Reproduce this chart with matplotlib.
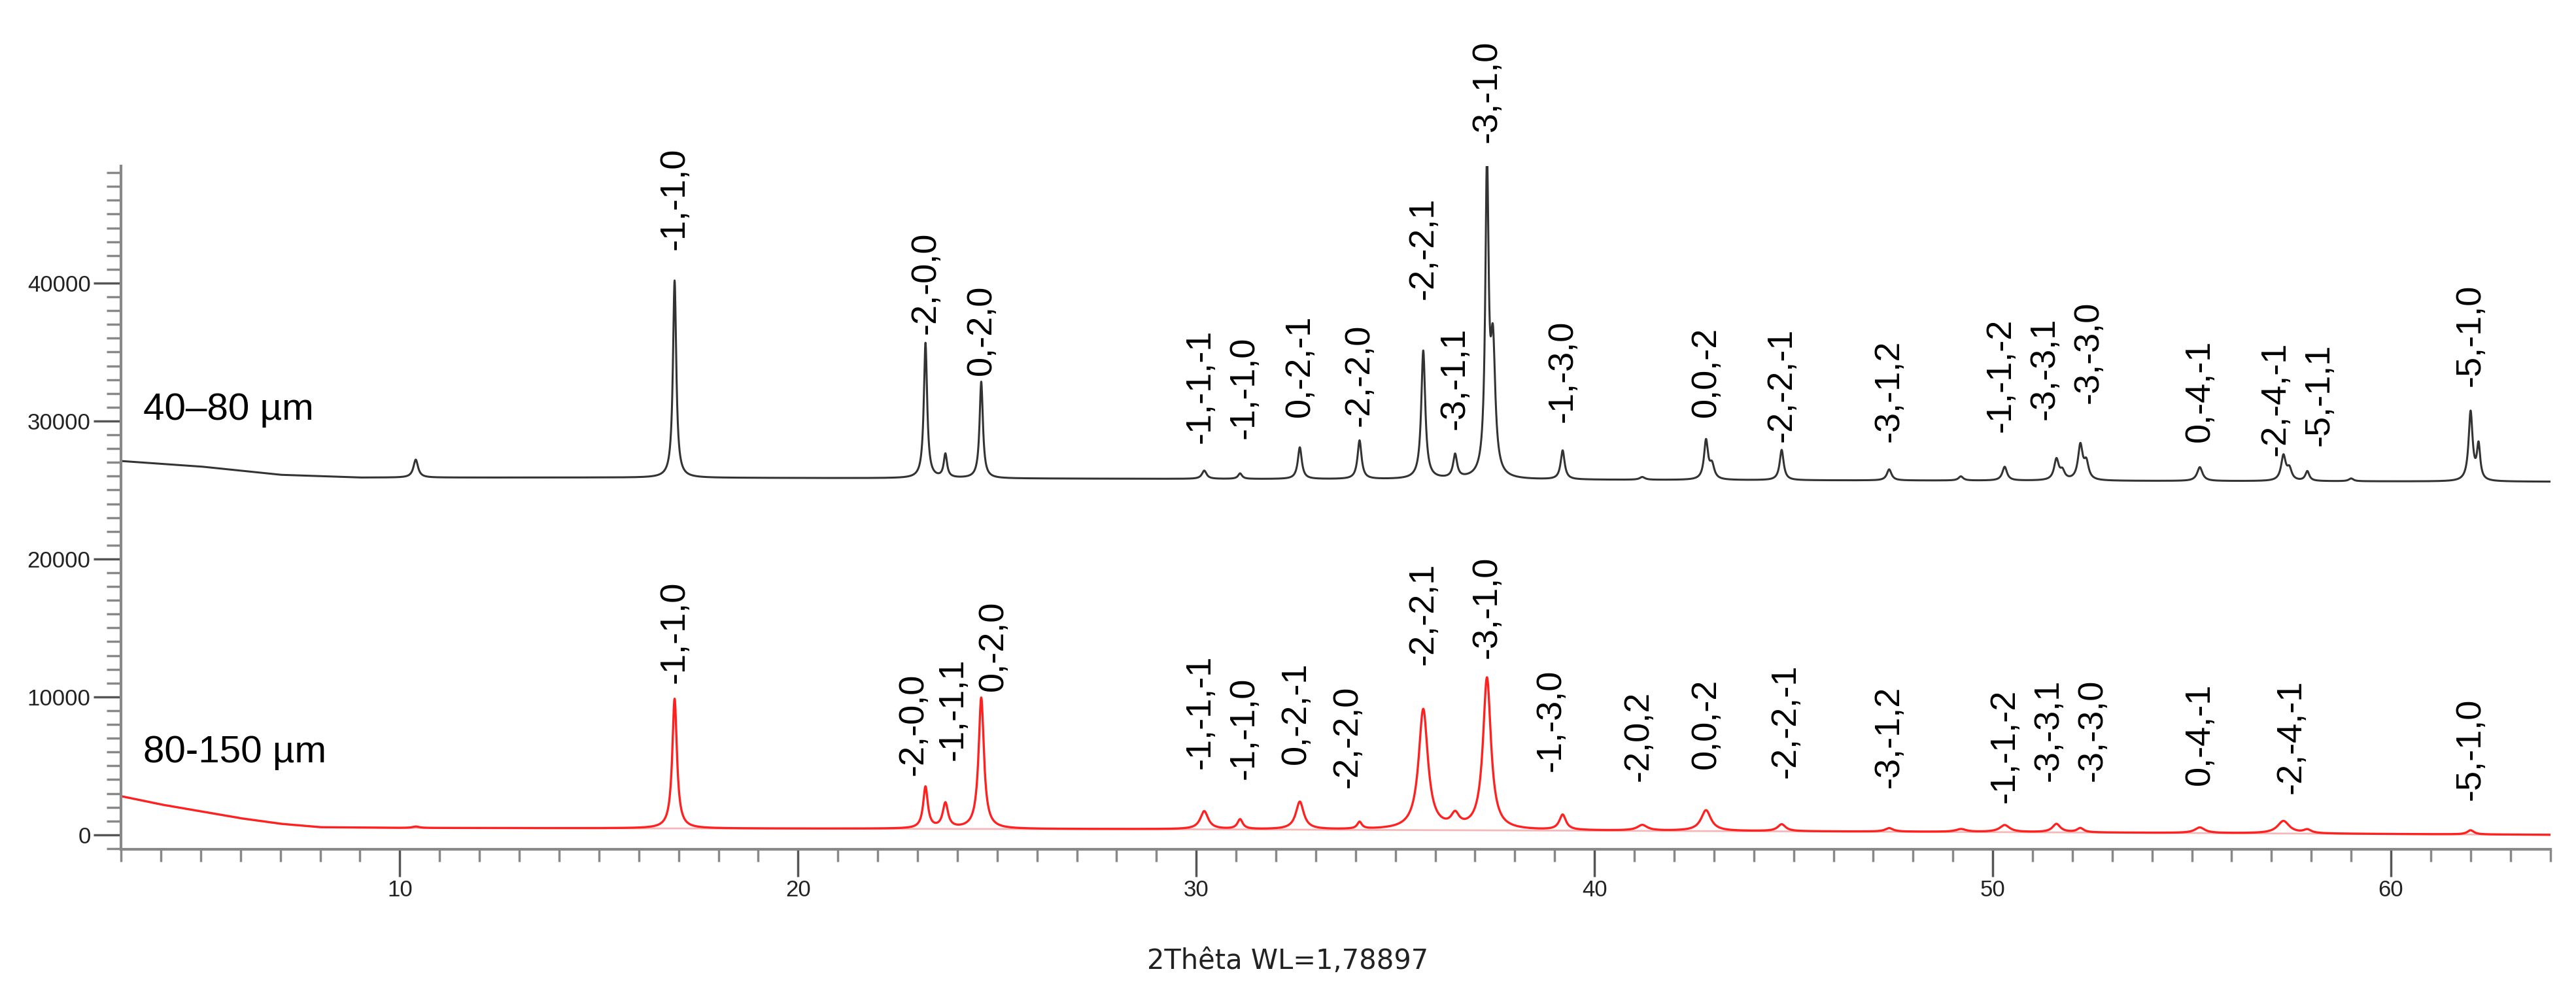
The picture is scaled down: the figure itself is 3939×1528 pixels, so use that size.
import numpy as np
import matplotlib
matplotlib.use("Agg")
import matplotlib.pyplot as plt

# ---- data ----
bk_pos = [10.4, 16.9, 23.2, 23.7, 24.6, 30.2, 31.1, 32.6, 34.1, 35.7, 36.5, 37.3, 37.45, 39.2, 41.2,
          42.8, 42.95, 44.7, 47.4, 49.2, 50.3, 51.6, 51.75, 52.2, 52.35, 55.2, 57.3, 57.45, 57.9, 59.0, 62.0, 62.2]
bk_amp = [1300, 14300, 9800, 1700, 7000, 600, 400, 2300, 2800, 9300, 1700, 22100, 9000, 2100, 200,
          2800, 1000, 2200, 800, 300, 1000, 1500, 600, 2500, 1200, 1000, 1800, 800, 700, 200, 5000, 2500]
bk_wid = [0.07, 0.05, 0.05, 0.05, 0.05, 0.07, 0.06, 0.06, 0.06, 0.06, 0.06, 0.05, 0.07, 0.06, 0.08,
          0.06, 0.07, 0.06, 0.07, 0.07, 0.07, 0.07, 0.07, 0.07, 0.07, 0.08, 0.07, 0.07, 0.06, 0.07, 0.06, 0.05]
bk_base_x = [3, 5, 7, 9, 15, 30, 45, 64]
bk_base_y = [27100, 26700, 26100, 25900, 25900, 25800, 25700, 25600]

rd_pos = [10.4, 16.9, 23.2, 23.7, 24.6, 30.2, 31.1, 32.6, 34.1, 35.7, 36.5, 37.3, 39.2, 41.2, 42.8,
          44.7, 47.4, 49.2, 50.3, 51.6, 52.2, 55.2, 57.3, 57.9, 62.0]
rd_amp = [100, 9400, 3000, 1800, 9500, 1300, 700, 2000, 500, 8700, 900, 11000, 1100, 400, 1500,
          500, 250, 200, 500, 600, 300, 400, 900, 250, 300]
rd_wid = [0.1, 0.07, 0.07, 0.08, 0.08, 0.12, 0.08, 0.12, 0.07, 0.14, 0.12, 0.12, 0.1, 0.15, 0.15,
          0.12, 0.12, 0.15, 0.15, 0.12, 0.1, 0.15, 0.18, 0.12, 0.1]
rd_base_x = [3, 4, 5, 6, 7, 8, 10, 20, 30, 40, 50, 64]
rd_base_y = [2800, 2200, 1700, 1200, 800, 550, 500, 450, 400, 300, 200, 0]

bk_labels = ["-1,-1,0", "-2,-0,0", "0,-2,0", "-1,-1,-1", "-1,-1,0", "0,-2,-1", "-2,-2,0", "-2,-2,1",
             "-3,-1,1", "-3,-1,0", "-1,-3,0", "0,0,-2", "-2,-2,-1", "-3,-1,2", "-1,-1,-2", "-3,-3,1",
             "-3,-3,0", "0,-4,-1", "-2,-4,-1", "-5,-1,1", "-5,-1,0"]
bk_lab_x = [16.9, 23.2, 24.6, 30.1, 31.2, 32.6, 34.1, 35.7, 36.5, 37.3, 39.2, 42.8, 44.7, 47.4,
            50.2, 51.3, 52.4, 55.2, 57.1, 58.2, 62.0]
bk_lab_y = [42400, 36300, 33300, 28400, 28700, 30300, 29600, 38800, 29400, 50200, 29900, 30300,
            28500, 28500, 29200, 30100, 31300, 28500, 27500, 28200, 32500]

rd_labels = ["-1,-1,0", "-2,-0,0", "-1,-1,1", "0,-2,0", "-1,-1,-1", "-1,-1,0", "0,-2,-1", "-2,-2,0",
             "-2,-2,1", "-3,-1,0", "-1,-3,0", "-2,0,2", "0,0,-2", "-2,-2,-1", "-3,-1,2", "-1,-1,-2",
             "-3,-3,1", "-3,-3,0", "0,-4,-1", "-2,-4,-1", "-5,-1,0"]
rd_lab_x = [16.9, 22.9, 23.9, 24.9, 30.1, 31.2, 32.5, 33.8, 35.7, 37.3, 38.9, 41.1, 42.8, 44.8, 47.4,
            50.3, 51.4, 52.5, 55.2, 57.5, 62.0]
rd_lab_y = [11000, 4300, 5400, 10400, 4800, 4000, 5100, 3400, 12300, 12800, 4600, 3900, 4800, 4100,
            3400, 2300, 3900, 3900, 3600, 3000, 2500]

x = np.linspace(3, 64, 12201)

def pattern(pos, amp, wid, bx, by):
    y = np.interp(x, bx, by).astype(float)
    for p, a, w in zip(pos, amp, wid):
        y += a / (1 + ((x - p) / w) ** 2)
    return y

bk = pattern(bk_pos, bk_amp, bk_wid, bk_base_x, bk_base_y)
rd = pattern(rd_pos, rd_amp, rd_wid, rd_base_x, rd_base_y)
rd_bg = np.interp(x, rd_base_x, rd_base_y)

fig = plt.figure(figsize=(39.39, 15.28), dpi=100)
ax = fig.add_axes([0.047, 0.150, 0.943, 0.684])
ax.plot(x, rd_bg, color="#f4b8b8", lw=2)
ax.plot(x, bk, color="#333333", lw=2.2)
ax.plot(x, rd, color="#ff2020", lw=2.4)
ax.set_xlim(3, 64)
ax.set_ylim(-1040, 48500)

lab_font = dict(rotation=90, ha="center", va="bottom", fontsize=39, family="Liberation Sans", clip_on=False)
for t, lx, ly in zip(bk_labels, bk_lab_x, bk_lab_y):
    ax.text(lx, ly, t, **lab_font)
for t, lx, ly in zip(rd_labels, rd_lab_x, rd_lab_y):
    ax.text(lx, ly, t, **lab_font)

ax.text(3.55, 29500, "40–80 µm", fontsize=42, family="Liberation Sans", va="bottom")
ax.text(3.55, 4700, "80-150 µm", fontsize=42, family="Liberation Sans", va="bottom")

for s in ["top", "right"]:
    ax.spines[s].set_visible(False)
for s in ["left", "bottom"]:
    ax.spines[s].set_color("#888888")
    ax.spines[s].set_linewidth(3)
ax.set_yticks([0, 10000, 20000, 30000, 40000])
ax.set_yticks(np.arange(-1000, 48001, 1000), minor=True)
ax.set_xticks([10, 20, 30, 40, 50, 60])
ax.set_xticks(np.arange(3, 65, 1), minor=True)
ax.tick_params(axis="both", which="major", labelsize=25, colors="#555555", labelcolor="#222222",
               length=30, width=2.5, direction="out")
ax.tick_params(axis="y", which="minor", length=16, width=2.5, color="#888888")
ax.tick_params(axis="x", which="minor", length=14, width=2.5, color="#888888")
for lab in ax.get_xticklabels() + ax.get_yticklabels():
    lab.set_family("Liberation Sans")

fig.text(0.5, 0.038, "2Thêta WL=1,78897", ha="center", va="center", fontsize=30,
         family="Liberation Sans Narrow", color="#222222")
fig.savefig("out.png", dpi=100, facecolor="white")
